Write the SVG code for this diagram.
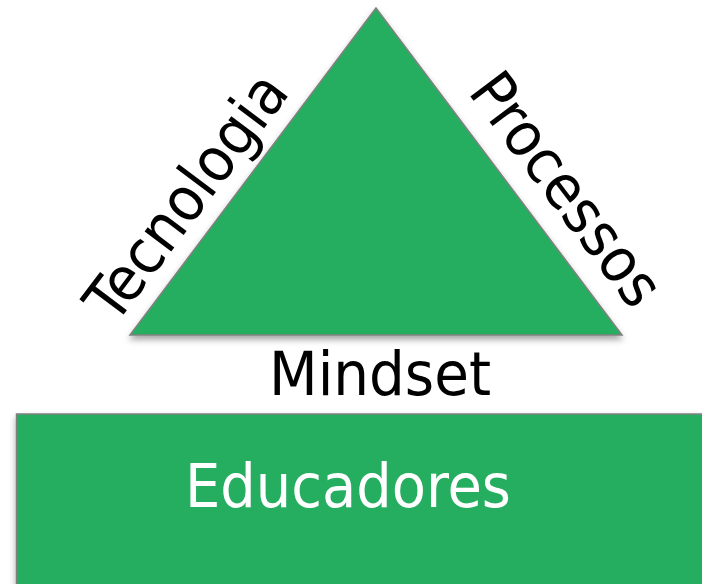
<svg xmlns="http://www.w3.org/2000/svg" width="702" height="584" viewBox="0 0 702 584">
  <defs>
    <filter id="shadow" x="-10%" y="-10%" width="120%" height="130%">
      <feDropShadow dx="0" dy="4" stdDeviation="3" flood-color="#000" flood-opacity="0.35"/>
    </filter>
    <style>
      .shape { fill: #27AE60; stroke: #808080; stroke-width: 1.5; filter: url(#shadow); }
      .lbl { font-family: "DejaVu Sans Condensed", "DejaVu Sans", "Liberation Sans", sans-serif; font-stretch: condensed; font-size: 61px; fill: #000; }
      .white { fill: #FFFFFF; }
    </style>
  </defs>
  <rect width="702" height="584" fill="#FFFFFF"/>
  <g id="triangle">
    <polygon class="shape" points="376,8 130,335 622,335"/>
  </g>
  <g id="educadores">
    <rect class="shape" x="16.5" y="414" width="700" height="190"/>
    <text class="lbl white" x="348" y="507" text-anchor="middle" textLength="326" lengthAdjust="spacingAndGlyphs">Educadores</text>
  </g>
  <g id="tecnologia">
    <text class="lbl" transform="translate(115,326) rotate(-53)" x="0" y="0" textLength="292" lengthAdjust="spacingAndGlyphs">Tecnologia</text>
  </g>
  <g id="processos">
    <text class="lbl" transform="translate(467,92) rotate(53)" x="0" y="0" textLength="275" lengthAdjust="spacingAndGlyphs">Processos</text>
  </g>
  <g id="mindset">
    <text class="lbl" x="380" y="395" text-anchor="middle" textLength="222" lengthAdjust="spacingAndGlyphs">Mindset</text>
  </g>
  <g id="connectors"/>
</svg>
